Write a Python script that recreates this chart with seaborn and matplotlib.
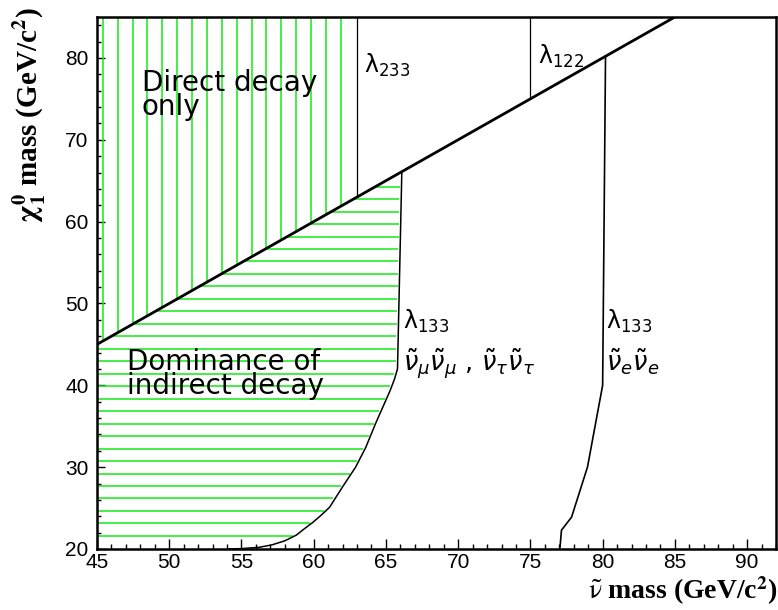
import numpy as np
import matplotlib
matplotlib.use("Agg")
import matplotlib.pyplot as plt
from matplotlib.ticker import MultipleLocator
import seaborn as sns

# --- boundaries (GeV/c^2) ---
diag_x = [45, 85]          # chi mass = sneutrino mass
diag_y = [45, 85]

lam233_x = [63, 63]
lam233_y = [63, 85]
lam122_x = [75, 75]
lam122_y = [75, 85]

# lambda_133 limit, numu/nutau sneutrinos
numu_x = [66.1, 66.0, 65.9, 65.8, 65.6, 65.3, 65.0, 64.6, 64.3, 63.6, 62.9, 62.0, 61.1,
          60.5, 59.9, 59.3, 58.8, 58.0, 57.1, 56.2, 55.0, 54.0]
numu_y = [66.1, 58.0, 50.0, 42.0, 40.8, 39.4, 38.2, 36.6, 35.4, 32.4, 30.0, 27.6, 25.1,
          24.1, 23.2, 22.4, 21.7, 21.0, 20.5, 20.2, 20.05, 20.0]

# lambda_133 limit, nue sneutrino
nue_x = [80.2, 80.1, 80.0, 78.95, 77.85, 77.15, 77.05]
nue_y = [80.2, 60.0, 40.0, 30.0, 23.9, 22.3, 20.2]

# hatch spacing of the two regions
vert_start, vert_step = 45.4, 1.03
horiz_start, horiz_step = 21.6, 1.524

GREEN = "#14ea14"

# --- plot ---
sns.set_style("ticks")
plt.rcParams["font.family"] = ["DejaVu Sans"]
plt.rcParams["xtick.direction"] = "in"
plt.rcParams["ytick.direction"] = "in"
plt.rcParams["text.color"] = "black"
plt.rcParams["axes.labelcolor"] = "black"
plt.rcParams["xtick.color"] = "black"
plt.rcParams["ytick.color"] = "black"

fig = plt.figure(figsize=(7.78, 6.10), dpi=100)
ax = fig.add_axes([97 / 778, 61 / 610, 679 / 778, 532 / 610])

# "direct decay only" region: vertical hatching above the diagonal
xs = np.arange(vert_start, lam233_x[0] - 0.5, vert_step)
ax.vlines(xs, ymin=xs, ymax=85, color=GREEN, lw=1.1, zorder=1)

# "dominance of indirect decay": horizontal hatching left of the numu curve
ys = np.arange(horiz_start, numu_y[0] - 1.0, horiz_step)
x_right = np.interp(ys, numu_y[::-1], numu_x[::-1]) - 0.12
x_left = np.maximum(45, ys)
ax.hlines(ys, xmin=x_left, xmax=x_right, color=GREEN, lw=1.1, zorder=1)

sns.lineplot(x=diag_x, y=diag_y, sort=False, estimator=None, color="black", lw=2.0, ax=ax)
sns.lineplot(x=lam233_x, y=lam233_y, sort=False, estimator=None, color="black", lw=0.9, ax=ax)
sns.lineplot(x=lam122_x, y=lam122_y, sort=False, estimator=None, color="black", lw=0.9, ax=ax)
sns.lineplot(x=numu_x, y=numu_y, sort=False, estimator=None, color="black", lw=1.1, ax=ax)
sns.lineplot(x=nue_x, y=nue_y, sort=False, estimator=None, color="black", lw=1.2, ax=ax)

ax.set_xlim(45, 92)
ax.set_ylim(20, 85)
ax.xaxis.set_major_locator(MultipleLocator(5))
ax.xaxis.set_minor_locator(MultipleLocator(1))
ax.yaxis.set_major_locator(MultipleLocator(10))
ax.yaxis.set_minor_locator(MultipleLocator(2))
ax.tick_params(axis="x", which="major", length=7.5, width=1.0, labelsize=15, pad=3)
ax.tick_params(axis="x", which="minor", length=3.5, width=1.0)
ax.tick_params(axis="y", which="major", length=6, width=1.0, labelsize=15, pad=6)
ax.tick_params(axis="y", which="minor", length=3, width=1.0)
for lab in ax.get_xticklabels() + ax.get_yticklabels():
    lab.set_fontfamily("Liberation Sans")
for s in ax.spines.values():
    s.set_linewidth(1.8)
    s.set_color("black")

# region and coupling labels
ax.text(48.1, 78.6, "Direct decay\nonly", fontsize=20, va="top", ha="left", linespacing=0.78)
ax.text(47.1, 44.6, "Dominance of\nindirect decay", fontsize=20, va="top", ha="left", linespacing=0.85)
ax.text(63.5, 80.8, r"λ$_{233}$", fontsize=17, va="top", ha="left")
ax.text(75.5, 81.8, r"λ$_{122}$", fontsize=17, va="top", ha="left")
ax.text(66.2, 49.5, r"λ$_{133}$", fontsize=17, va="top", ha="left")
ax.text(80.2, 49.5, r"λ$_{133}$", fontsize=17, va="top", ha="left")
ax.text(66.2, 44.8, r"$\tilde{\nu}_\mu\tilde{\nu}_\mu$ , $\tilde{\nu}_\tau\tilde{\nu}_\tau$", fontsize=18.5, va="top", ha="left")
ax.text(80.2, 44.8, r"$\tilde{\nu}_e\tilde{\nu}_e$", fontsize=18.5, va="top", ha="left")

ax.set_xlabel(r"$\tilde{\mathrm{ν}}$ mass (GeV/c$^{\mathbf{2}}$)", loc="right", fontsize=20,
              fontweight="bold", fontfamily="Liberation Serif", math_fontfamily="stix")
ax.xaxis.set_label_coords(1.002, -0.047)
ax.set_ylabel(r"$\mathbf{\chi_1^0}$ mass (GeV/c$^{\mathbf{2}}$)", loc="top", fontsize=21,
              fontweight="bold", fontfamily="Liberation Serif", math_fontfamily="stix")
ax.yaxis.set_label_coords(-0.072, 1.019)

fig.savefig("out.png", dpi=100)
